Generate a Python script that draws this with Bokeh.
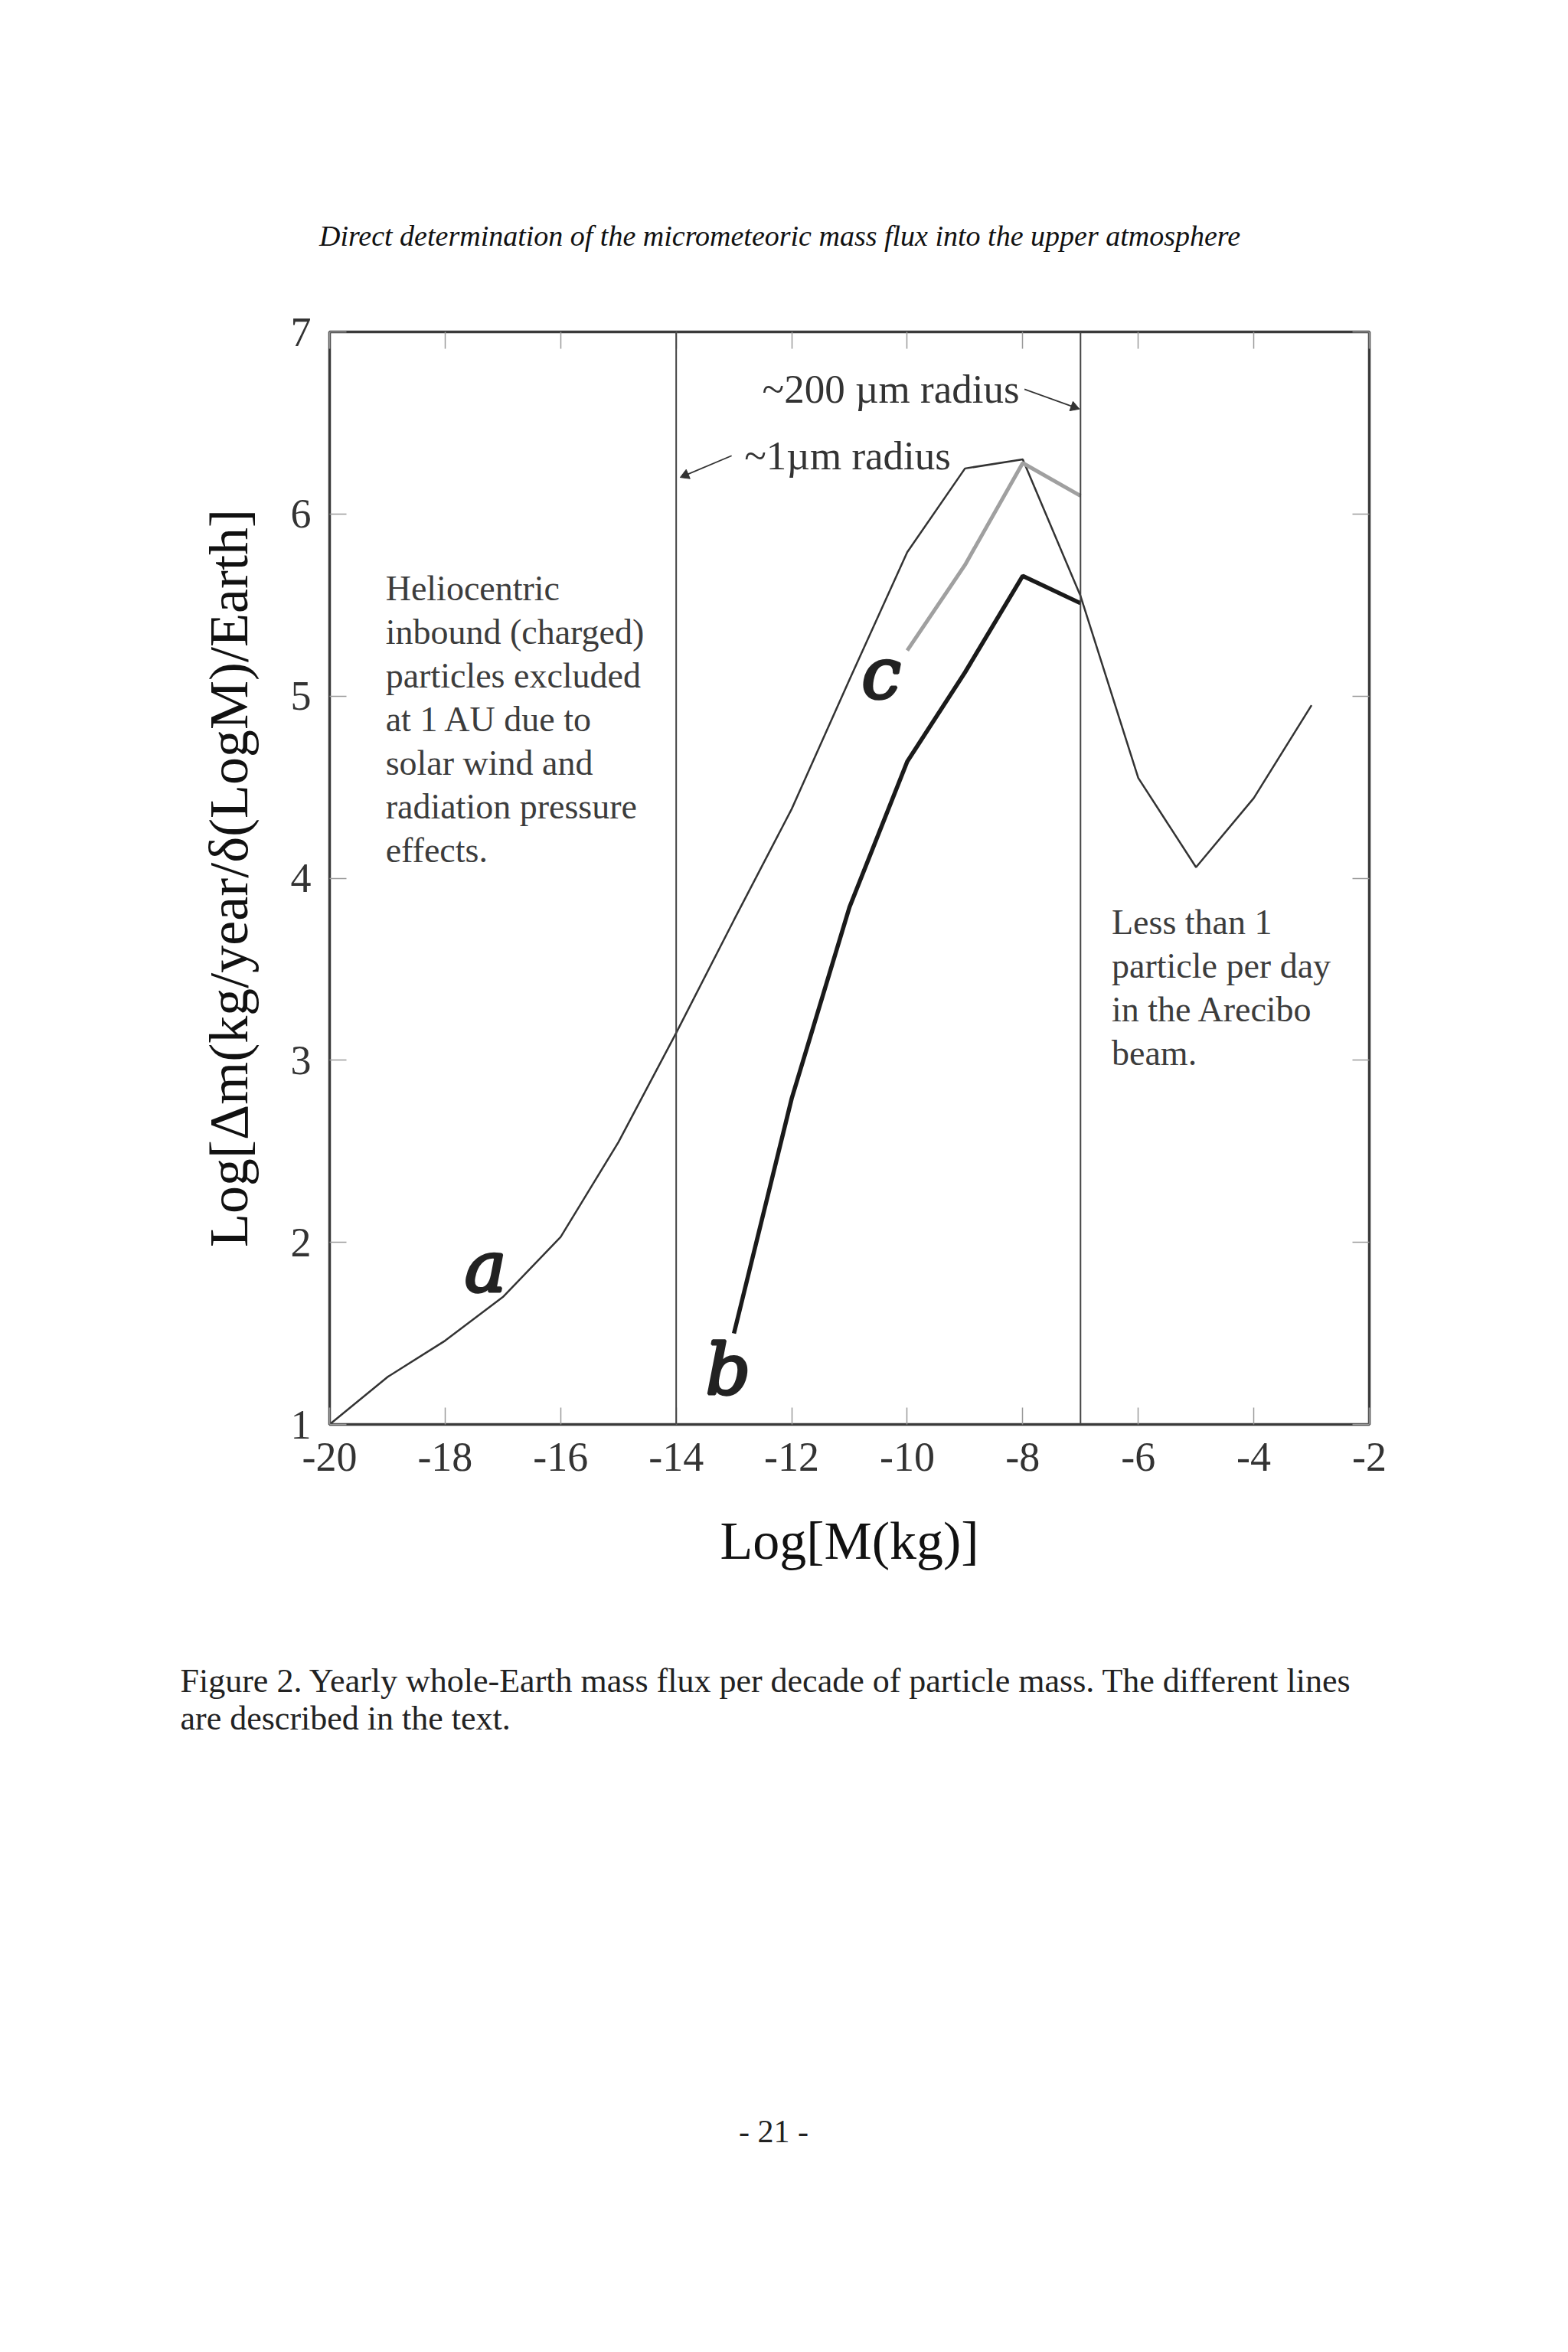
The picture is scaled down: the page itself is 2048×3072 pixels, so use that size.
import math
from bokeh.plotting import figure
from bokeh.models import Range1d, LinearAxis, FixedTicker, Span
from bokeh.models import Text as TextGlyph
from bokeh.core.properties import value
from bokeh.embed import file_html
from bokeh.resources import INLINE

# ---------------- data ----------------
x_ticks = [-20, -18, -16, -14, -12, -10, -8, -6, -4, -2]
x_tick_labels = ["-20", "-18", "-16", "-14", "-12", "-10", "-8", "-6", "-4", "-2"]
y_ticks = [1, 2, 3, 4, 5, 6, 7]
y_tick_labels = ["1", "2", "3", "4", "5", "6", "7"]

a_logm = [-20, -19, -18, -17, -16, -15, -14, -13, -12, -11, -10, -9, -8, -7, -6, -5, -4, -3]
a_flux = [1.00, 1.26, 1.46, 1.70, 2.03, 2.55, 3.15, 3.77, 4.38, 5.09, 5.79, 6.25, 6.30, 5.55, 4.55, 4.06, 4.44, 4.95]

b_logm = [-13, -12, -11, -10, -9, -8, -7]
b_flux = [1.50, 2.79, 3.84, 4.64, 5.13, 5.66, 5.51]

c_logm = [-10, -9, -8, -7]
c_flux = [5.25, 5.72, 6.28, 6.10]

boundaries = [-14, -7]

curve_letters = ["a", "b", "c"]

heliocentric_lines = ["Heliocentric", "inbound (charged)", "particles excluded",
                      "at 1 AU due to", "solar wind and", "radiation pressure", "effects."]
arecibo_lines = ["Less than 1", "particle per day", "in the Arecibo", "beam."]
radius_labels = ["~200 \u00b5m radius", "~1\u00b5m radius"]

header_text = "Direct determination of the micrometeoric mass flux into the upper atmosphere"
caption_lines = ["Figure 2.  Yearly whole-Earth mass flux per decade of particle mass.  The different lines",
                 "are described in the text."]
page_number = "- 21 -"

SERIF = "Liberation Serif"

# ---------------- geometry (page pixels) ----------------
W = 2032
H_TOP, H_MAIN, H_BOT = 400, 1700, 956
FL, FT, FR, FB = 430, 433, 1788, 1860   # frame edges on the page
XR = (-20, -2)
YR = (1, 7)
PX_X = (FR - FL) / (XR[1] - XR[0])
PX_Y = (FB - FT) / (YR[1] - YR[0])

def text_fig(h):
    f = figure(width=W, height=h, x_range=Range1d(0, W), y_range=Range1d(h, 0),
               output_backend="svg", toolbar_location=None, title=None,
               x_axis_location=None, y_axis_location=None,
               min_border=0, min_border_left=0, min_border_right=0,
               min_border_top=0, min_border_bottom=0,
               background_fill_color="white", border_fill_color="white")
    f.grid.visible = False
    f.outline_line_color = None
    return f

# ---------------- header (page strip 0..H_TOP) ----------------
top_fig = text_fig(H_TOP)
top_fig.text(x=[1018], y=[307], text=[header_text], text_font=value(SERIF),
             text_font_style="italic", text_font_size="38px", text_color="#111111",
             text_align="center", text_baseline="middle")

# ---------------- main chart ----------------
p = figure(width=W, height=H_MAIN, output_backend="svg", toolbar_location=None,
           x_range=Range1d(*XR), y_range=Range1d(*YR),
           min_border_left=FL, min_border_top=FT - H_TOP,
           min_border_right=W - FR, min_border_bottom=H_TOP + H_MAIN - FB,
           background_fill_color="white", border_fill_color="white")
p.grid.visible = False
p.outline_line_color = "#3a3a3a"
p.outline_line_width = 3.5

def style_axis(ax, labels=True):
    ax.axis_line_color = None
    ax.major_tick_in = 22
    ax.major_tick_out = 0
    ax.minor_tick_line_color = None
    ax.major_tick_line_color = "#9a9a9a"
    ax.major_tick_line_width = 1.5
    ax.major_label_text_font = SERIF
    ax.major_label_text_font_size = "54px"
    ax.major_label_text_color = "#333333"
    if not labels:
        ax.major_label_text_alpha = 0.0
        ax.major_label_text_font_size = "2px"

xa = p.xaxis[0]
xa.ticker = FixedTicker(ticks=x_ticks)
xa.major_label_overrides = dict(zip(x_ticks, x_tick_labels))
style_axis(xa)
xa.major_label_standoff = 24
xa.axis_label = "Log[M(kg)]"
xa.axis_label_text_font = SERIF
xa.axis_label_text_font_style = "normal"
xa.axis_label_text_font_size = "70px"
xa.axis_label_text_color = "#111111"
xa.axis_label_standoff = 50

ya = p.yaxis[0]
ya.ticker = FixedTicker(ticks=y_ticks)
ya.major_label_overrides = dict(zip(y_ticks, y_tick_labels))
style_axis(ya)
ya.major_label_standoff = 24
ya.axis_label = "Log[\u0394m(kg/year/\u03b4(LogM)/Earth]"
ya.axis_label_text_font = SERIF
ya.axis_label_text_font_style = "normal"
ya.axis_label_text_font_size = "72px"
ya.axis_label_text_color = "#111111"
ya.axis_label_standoff = 38

top_ax = LinearAxis(ticker=FixedTicker(ticks=x_ticks))
style_axis(top_ax, labels=False)
p.add_layout(top_ax, "above")
right_ax = LinearAxis(ticker=FixedTicker(ticks=y_ticks))
style_axis(right_ax, labels=False)
p.add_layout(right_ax, "right")

for b in boundaries:
    p.add_layout(Span(location=b, dimension="height", line_color="#444444", line_width=2))

# curves
p.line(a_logm, a_flux, line_color="#333333", line_width=2.5)
p.line(c_logm, c_flux, line_color="#a0a0a0", line_width=5)
p.line(b_logm, b_flux, line_color="#1a1a1a", line_width=5.5)

# curve letters (heavy italic serif)
letter_kw = {}
if "text_outline_color" in TextGlyph.properties():
    letter_kw["text_outline_color"] = "#222222"
p.text(x=[-17.3, -13.1, -10.45], y=[1.86, 1.30, 5.12], text=curve_letters,
       text_font=value("DejaVu Serif"), text_font_style="italic", text_font_size="92px",
       text_color="#222222", text_align="center", text_baseline="middle", **letter_kw)

# text blocks
LINE = 57 / PX_Y
p.text(x=[-19.03] * len(heliocentric_lines),
       y=[5.59 - i * LINE for i in range(len(heliocentric_lines))],
       text=heliocentric_lines, text_font=value(SERIF), text_font_size="46px",
       text_color="#3c3c3c", text_align="left", text_baseline="middle")
p.text(x=[-6.46] * len(arecibo_lines),
       y=[3.76 - i * LINE for i in range(len(arecibo_lines))],
       text=arecibo_lines, text_font=value(SERIF), text_font_size="46px",
       text_color="#3c3c3c", text_align="left", text_baseline="middle")
p.text(x=[-12.51, -12.82], y=[6.685, 6.32], text=radius_labels,
       text_font=value(SERIF), text_font_size="53px",
       text_color="#333333", text_align="left", text_baseline="middle")

# arrows: shaft + triangular head
arrows = [(-7.97, 6.685, -7.05, 6.58), (-13.04, 6.32, -13.9, 6.205)]
p.segment(x0=[a[0] for a in arrows], y0=[a[1] for a in arrows],
          x1=[a[2] for a in arrows], y1=[a[3] for a in arrows],
          line_color="#333333", line_width=1.8)
head_x, head_y, head_ang = [], [], []
for x0, y0, x1, y1 in arrows:
    dx, dy = (x1 - x0) * PX_X, (y1 - y0) * PX_Y
    d = math.hypot(dx, dy)
    ang = math.atan2(dy, dx)
    back = 5.0  # px, so the tip sits at the end point
    head_x.append(x1 - back * dx / d / PX_X)
    head_y.append(y1 - back * dy / d / PX_Y)
    head_ang.append(ang - math.pi / 2)
p.scatter(x=head_x, y=head_y, marker="triangle", size=13, angle=head_ang,
          fill_color="#333333", line_color="#333333")

# ---------------- caption / page number (page strip below the chart) ----------------
bot_fig = text_fig(H_BOT)
y0 = H_TOP + H_MAIN
bot_fig.text(x=[235, 235], y=[2195 - y0, 2244 - y0], text=caption_lines,
             text_font=value(SERIF), text_font_size="44px", text_color="#222222",
             text_align="left", text_baseline="middle")
bot_fig.text(x=[1010], y=[2783 - y0], text=[page_number],
             text_font=value(SERIF), text_font_size="42px", text_color="#222222",
             text_align="center", text_baseline="middle")

# three independent roots stacked on the page (no frame alignment between them)
open("out.html", "w").write(file_html([top_fig, p, bot_fig], INLINE))
